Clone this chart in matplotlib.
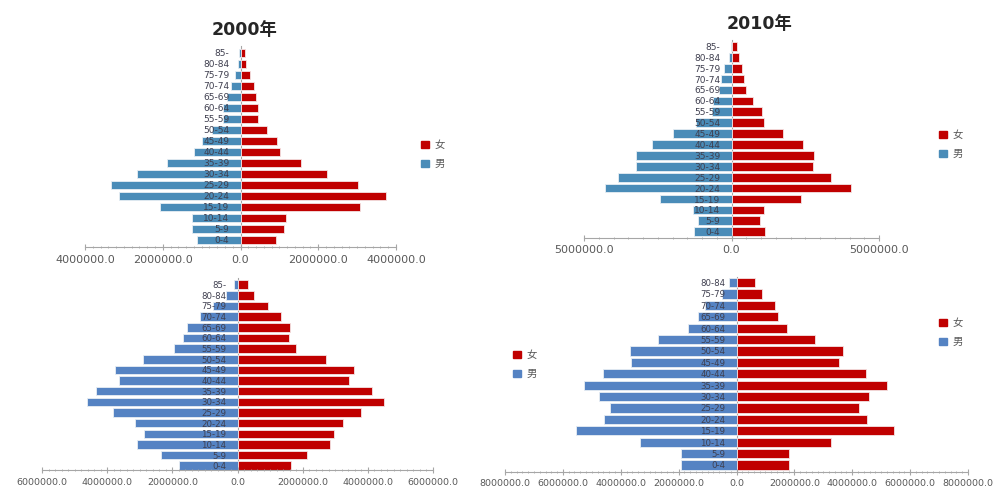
import numpy as np
import matplotlib.pyplot as plt
from matplotlib.patches import Patch
from matplotlib.ticker import FuncFormatter, MultipleLocator

plt.rcParams['font.family'] = ['DejaVu Sans', 'Noto Sans CJK SC']

# age groups, youngest first
ages = ['0-4', '5-9', '10-14', '15-19', '20-24', '25-29', '30-34', '35-39',
        '40-44', '45-49', '50-54', '55-59', '60-64', '65-69', '70-74',
        '75-79', '80-84', '85-']
ages_no85 = ages[:-1]

# population by age group (persons)
male_2000 = [1130000, 1260000, 1260000, 2070000, 3120000, 3320000, 2660000,
             1880000, 1190000, 1000000, 740000, 460000, 440000, 350000,
             250000, 140000, 70000, 30000]
female_2000 = [920000, 1110000, 1170000, 3070000, 3750000, 3020000, 2230000,
               1560000, 1010000, 950000, 680000, 460000, 440000, 400000,
               340000, 250000, 150000, 120000]

male_2010 = [1280000, 1130000, 1320000, 2410000, 4280000, 3850000, 3230000,
             3230000, 2710000, 2000000, 1220000, 670000, 620000, 410000,
             350000, 240000, 100000, 30000]
female_2010 = [1120000, 950000, 1100000, 2350000, 4050000, 3370000, 2770000,
               2810000, 2430000, 1740000, 1100000, 1030000, 720000, 500000,
               430000, 350000, 260000, 200000]

male_bl = [1810000, 2340000, 3090000, 2880000, 3160000, 3830000, 4620000,
           4340000, 3650000, 3770000, 2910000, 1960000, 1680000, 1540000,
           1160000, 760000, 350000, 120000]
female_bl = [1630000, 2120000, 2850000, 2960000, 3230000, 3800000, 4490000,
             4130000, 3420000, 3570000, 2720000, 1800000, 1570000, 1600000,
             1320000, 930000, 520000, 320000]

male_br = [1920000, 1920000, 3340000, 5540000, 4570000, 4380000, 4740000,
           5280000, 4620000, 3650000, 3680000, 2710000, 1690000, 1340000,
           1090000, 510000, 250000]
female_br = [1810000, 1830000, 3280000, 5450000, 4510000, 4230000, 4570000,
             5200000, 4460000, 3540000, 3690000, 2720000, 1750000, 1440000,
             1340000, 890000, 650000]

RED = '#C00000'
BLUE_TOP = '#4A8CB8'
BLUE_BOTTOM = '#5583C3'
GREY_TXT = '#595959'
GREY_LINE = '#A6A6A6'

W, H = 994, 488
fig = plt.figure(figsize=(W / 100, H / 100), dpi=100)


def px_rect(left, top, right, bottom):
    """convert a pixel box (origin top-left) into figure fractions"""
    return [left / W, 1 - bottom / H, (right - left) / W, (bottom - top) / H]


def pyramid(rect, labels, male, female, blue, xmax, step, ylim,
            tick_size, label_size):
    """
    Draws one population pyramid: males to the left, females to the right.
    rect : pixel box of the axes
    xmax, step : range and major tick spacing of the value axis
    """
    ax = fig.add_axes(px_rect(*rect))
    pos = np.arange(len(labels))
    ax.barh(pos, -np.array(male), height=0.8, color=blue,
            edgecolor='#E8EEF4', linewidth=0.6, label='男')
    ax.barh(pos, female, height=0.8, color=RED,
            edgecolor='#F4E4E4', linewidth=0.6, label='女')

    ax.set_xlim(-xmax, xmax)
    ax.set_ylim(*ylim)
    ax.xaxis.set_major_locator(MultipleLocator(step))
    ax.xaxis.set_minor_locator(MultipleLocator(step / 10))
    ax.xaxis.set_major_formatter(FuncFormatter(lambda v, p: '%.1f' % abs(v)))

    for s in ['top', 'right']:
        ax.spines[s].set_visible(False)
    ax.spines['left'].set_position(('data', 0))
    ax.spines['left'].set_color(GREY_LINE)
    ax.spines['bottom'].set_color(GREY_LINE)
    ax.spines['left'].set_zorder(0.5)

    # age labels sit just left of the zero line, over the male bars
    ax.set_yticks(pos, labels)
    ax.tick_params(axis='y', length=0, pad=8, labelsize=label_size,
                   labelcolor='#3F3F4F')
    ax.tick_params(axis='x', which='major', direction='inout', length=5,
                   color=GREY_LINE, labelsize=tick_size, labelcolor=GREY_TXT,
                   pad=3)
    ax.tick_params(axis='x', which='minor', direction='inout', length=2,
                   color=GREY_LINE)
    ax.set_axisbelow(False)
    ax.patch.set_alpha(0)
    return ax


def side_legend(x, y, blue):
    """legend with 女 above 男, placed by its top-left pixel"""
    handles = [Patch(color=RED, label='女'), Patch(color=blue, label='男')]
    fig.legend(handles=handles, loc='upper left',
               bbox_to_anchor=(x / W, 1 - y / H), frameon=False,
               fontsize=7.5, labelcolor=GREY_TXT, handlelength=0.8,
               handleheight=0.7, handletextpad=0.5, labelspacing=0.9,
               borderpad=0, borderaxespad=0)


def title(x, y, text):
    """bold year heading, centred on a pixel position"""
    fig.text(x / W, 1 - y / H, text, fontsize=12.5, fontweight='bold',
             ha='center', va='center', color='#262626')


# 2000
pyramid((85, 46.4, 396, 247), ages, male_2000, female_2000, BLUE_TOP,
        4000000, 2000000, (-0.64, 17.6), 8, 6.5)
side_legend(421, 140, BLUE_TOP)
title(245, 30, '2000年')

# 2010
pyramid((584, 40.4, 879, 237.7), ages, male_2010, female_2010, BLUE_TOP,
        5000000, 5000000, (-0.55, 17.55), 8, 6.5)
side_legend(939, 130, BLUE_TOP)
title(760, 24, '2010年')

# lower row
pyramid((42, 278.3, 433, 470), ages, male_bl, female_bl, BLUE_BOTTOM,
        6000000, 2000000, (-0.4, 17.6), 6.8, 6.2)
side_legend(513, 350, BLUE_BOTTOM)

pyramid((505, 276.9, 968, 471.7), ages_no85, male_br, female_br, BLUE_BOTTOM,
        8000000, 2000000, (-0.59, 16.5), 6.8, 6.2)
side_legend(939, 318, BLUE_BOTTOM)

fig.savefig('out.png', dpi=100)
